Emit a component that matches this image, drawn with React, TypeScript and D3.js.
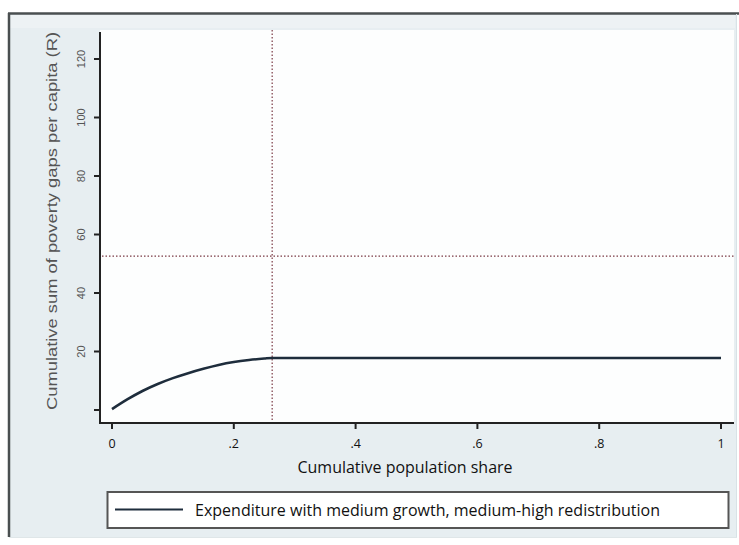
import React from "react";
import * as d3 from "d3";

const popShare = [0, 0.025, 0.05, 0.075, 0.1, 0.125, 0.15, 0.175, 0.2, 0.225, 0.25, 0.263, 1];
const cumGap = [0.3, 3.6, 6.5, 8.9, 10.9, 12.6, 14.1, 15.4, 16.4, 17.1, 17.6, 17.8, 17.8];
const xTicks = [0, 0.2, 0.4, 0.6, 0.8, 1];
const xTickLabels = ["0", ".2", ".4", ".6", ".8", "1"];
const yTicks = [0, 20, 40, 60, 80, 100, 120];
const yTickLabels = ["", "20", "40", "60", "80", "100", "120"];
const refX = [0.263];
const refY = [52.6];
const legendLabel = "Expenditure with medium growth, medium-high redistribution";

export default function App() {
  const W = 739, H = 545;
  const x = d3.scaleLinear().domain([0, 1]).range([112, 721]);
  const y = d3.scaleLinear().domain([0, 120]).range([410, 59]);
  const plotL = 100, plotR = 734, plotT = 30, plotB = 423;
  const pts = popShare.map((p, i) => [p, cumGap[i]] as [number, number]);
  const line = d3.line<[number, number]>().x(d => x(d[0])).y(d => y(d[1])).curve(d3.curveMonotoneX);
  const font = "'Liberation Sans', Arial, sans-serif";
  const font2 = "'Open Sans', 'Liberation Sans', sans-serif";
  return (
    <svg width={W} height={H} style={{ position: "absolute", left: 0, top: 0 }}>
      <rect x={0} y={0} width={W} height={H} fill="#ffffff" />
      <rect x={9} y={14} width={728} height={523} fill="#e7eef1" />
      <rect x={9} y={15} width={726} height={13} fill="#edf2f4" />
      <line x1={8} x2={739} y1={13.5} y2={13.5} stroke="#4a4f50" strokeWidth={2.5} />
      <line x1={9} x2={9} y1={13} y2={537} stroke="#4a4f50" strokeWidth={2.5} />
      <line x1={9} x2={737} y1={537.5} y2={537.5} stroke="#dfe6e8" strokeWidth={1} />
      <line x1={736.5} x2={736.5} y1={14} y2={537} stroke="#d8e2e6" strokeWidth={1} />
      <rect x={plotL} y={plotT} width={plotR - plotL} height={plotB - plotT} fill="#fdfefe" />
      {refY.map((v, i) => (
        <line key={"ry" + i} x1={plotL + 2} x2={plotR} y1={y(v)} y2={y(v)} stroke="#7a3a44" strokeWidth={1.2} strokeDasharray="1.5 2" />
      ))}
      {refX.map((v, i) => (
        <line key={"rx" + i} x1={x(v)} x2={x(v)} y1={plotT} y2={plotB} stroke="#7a3a44" strokeWidth={1.2} strokeDasharray="1.5 2" />
      ))}
      <path d={line(pts) || ""} fill="none" stroke="#1e2d3c" strokeWidth={2.6} />
      <line x1={plotL} x2={plotL} y1={32} y2={plotB + 1} stroke="#222" strokeWidth={2} />
      <line x1={plotL} x2={plotR} y1={plotB} y2={plotB} stroke="#222" strokeWidth={2} />
      {yTicks.map((t, i) => (
        <g key={"yt" + i}>
          <line x1={94} x2={plotL} y1={y(t)} y2={y(t)} stroke="#222" strokeWidth={2} />
          {yTickLabels[i] && (
            <text x={85} y={y(t)} transform={`rotate(-90, 85, ${y(t)})`} textAnchor="middle" fontSize={11} fontFamily={font} fill="#555">
              {yTickLabels[i]}
            </text>
          )}
        </g>
      ))}
      {xTicks.map((t, i) => (
        <g key={"xt" + i}>
          <line x1={x(t)} x2={x(t)} y1={plotB} y2={plotB + 6} stroke="#222" strokeWidth={2} />
          <text x={x(t)} y={448} textAnchor="middle" fontSize={12.5} fontFamily={font2} fill="#111">
            {xTickLabels[i]}
          </text>
        </g>
      ))}
      <text x={57} y={221} transform="rotate(-90, 57, 221)" textAnchor="middle" fontSize={15} fontFamily={font} fill="#555" textLength={378} lengthAdjust="spacingAndGlyphs">
        Cumulative sum of poverty gaps per capita (R)
      </text>
      <text x={405} y={473} textAnchor="middle" fontSize={16} fontFamily={font2} fill="#111" textLength={215} lengthAdjust="spacingAndGlyphs">
        Cumulative population share
      </text>
      <rect x={107.5} y={492} width={621} height={36} fill="#ffffff" stroke="#555" strokeWidth={2} />
      <line x1={115} x2={183} y1={509.5} y2={509.5} stroke="#1e2d3c" strokeWidth={2} />
      <text x={195} y={515.5} fontSize={15.5} fontFamily={font2} fill="#111" textLength={465} lengthAdjust="spacingAndGlyphs">
        {legendLabel}
      </text>
    </svg>
  );
}
